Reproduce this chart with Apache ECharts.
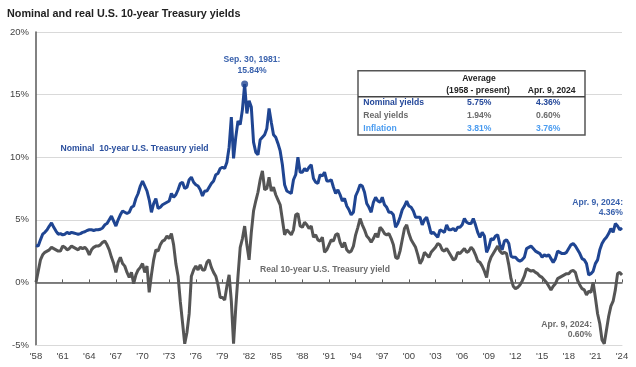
<!DOCTYPE html>
<html>
<head>
<meta charset="utf-8">
<script src="https://cdn.jsdelivr.net/npm/echarts@6/dist/echarts.min.js"></script>
<style>
html,body{margin:0;padding:0;background:#fff;}
#chart{width:636px;height:367px;}
</style>
</head>
<body>
<div id="chart"></div>
<script>
// Quarterly sample positions start at 1958 (x positions only)
const startYear = 1958;
const stepYears = 0.25;

// Nominal 10-year U.S. Treasury yield (%), 4 per year
const nominal = [
 2.95,2.9,3.4,3.85, 4.0,4.2,4.5,4.75, 4.4,4.1,3.85,3.9, 3.8,3.85,4.0,3.9,
 4.0,3.95,3.9,3.85, 3.9,4.0,4.05,4.15, 4.2,4.2,4.15,4.2, 4.2,4.25,4.35,4.6,
 4.7,5.0,5.3,4.9, 4.5,5.0,5.4,5.7, 5.6,5.5,5.6,6.0, 6.1,6.7,7.1,7.7,
 8.1,7.7,7.3,6.6, 5.6,6.3,6.7,5.9, 6.0,6.2,6.3,6.4, 6.5,7.1,6.8,7.0,
 7.4,7.9,8.0,7.5, 7.6,8.2,8.4,8.0, 7.8,7.7,7.4,6.9, 7.3,7.3,7.6,7.9,
 8.1,8.6,8.7,9.1, 9.2,9.1,9.6,10.8, 13.2,9.9,11.6,12.9, 12.6,13.8,15.84,13.5,
 14.5,14.0,11.2,10.4, 10.2,11.4,11.6,11.8, 12.3,13.9,12.8,11.8, 11.6,11.1,10.5,9.4,
 7.8,7.3,7.2,7.1, 8.2,8.6,10.0,8.8, 8.8,9.1,8.9,9.2, 9.4,8.3,8.0,7.9,
 8.6,8.5,8.8,8.1, 8.1,8.2,7.6,7.1, 7.4,7.0,6.5,6.7, 6.1,5.8,5.4,5.6,
 6.9,7.3,7.8,7.7, 7.2,6.3,6.0,5.6, 6.4,6.8,6.5,6.4, 6.8,6.2,6.0,5.6,
 5.6,5.4,4.4,4.7, 5.2,5.8,6.1,6.5, 6.1,6.0,5.7,5.2, 5.2,5.2,4.6,5.0,
 5.2,4.6,3.9,4.0, 3.8,3.6,4.2,4.1, 4.0,4.6,4.2,4.2, 4.3,4.1,4.4,4.4,
 4.6,5.1,4.8,4.7, 4.7,5.1,4.6,4.0, 3.6,4.0,3.7,2.4, 2.8,3.5,3.4,3.7,
 3.8,3.0,2.6,3.3, 3.4,3.1,2.1,2.0, 2.0,1.8,1.7,1.8, 2.0,2.7,2.8,2.9,
 2.7,2.5,2.4,2.3, 2.0,2.2,2.1,2.2, 1.9,1.6,1.9,2.5, 2.4,2.3,2.3,2.4,
 2.7,3.0,3.1,2.9, 2.6,2.3,1.9,1.8, 1.5,0.6,0.7,0.9, 1.5,1.8,2.6,3.1,
 3.4,3.6,3.9,4.3, 4.0,4.7,4.5,4.2, 4.36
];

// Real 10-year U.S. Treasury yield (%), 4 per year
const real = [
 0.0,0.9,1.8,2.2, 2.4,2.5,2.6,2.8, 2.7,2.6,2.5,2.5, 2.9,2.8,2.6,2.7,
 2.9,2.8,2.7,2.6, 2.8,2.7,2.8,2.6, 2.2,2.6,2.8,2.9, 2.9,3.0,3.2,3.3,
 3.0,2.6,2.0,1.5, 0.8,1.6,2.0,1.5, 1.3,0.8,0.4,0.8, -0.1,0.6,1.0,1.2,
 1.5,0.8,1.3,-0.8, 0.6,1.8,2.6,2.5, 3.0,3.3,3.4,3.7, 3.5,3.9,3.0,1.5,
 0.5,-1.5,-3.2,-4.9, -4.0,-2.5,0.5,1.0, 1.3,1.0,1.4,1.0, 1.0,1.6,1.8,1.2,
 0.8,0.5,-0.2,-1.2, -1.2,-1.4,-0.3,0.6, -1.5,-4.9,-2.0,0.5, 2.8,3.5,4.5,3.0,
 1.8,4.0,5.7,6.5, 7.2,8.2,8.9,7.4, 7.5,8.4,7.3,7.6, 7.0,6.6,6.2,5.0,
 3.8,4.2,4.0,3.8, 4.2,5.4,5.5,4.5, 4.4,4.8,4.6,4.3, 4.5,3.6,3.8,3.4,
 3.3,3.6,2.4,2.6, 3.0,3.4,3.3,3.8, 3.9,3.2,2.8,3.2, 2.6,2.4,2.5,2.9,
 3.8,4.4,5.1,4.6, 4.2,3.7,3.5,3.2, 3.5,3.9,3.6,4.4, 4.2,3.9,3.8,3.9,
 3.5,3.0,2.0,1.9, 2.5,3.4,4.3,4.6, 3.9,3.4,3.1,2.8, 2.2,1.5,1.8,2.4,
 2.2,2.0,2.4,2.6, 2.8,3.1,3.0,2.6, 2.5,2.7,2.4,2.1, 1.8,1.9,2.4,2.3,
 2.5,2.7,2.4,2.5, 2.8,2.6,2.2,1.7, 1.6,1.3,0.9,0.4, 1.5,2.0,2.3,2.6,
 2.9,2.5,2.3,2.4, 2.3,1.4,0.3,-0.3, -0.5,-0.4,-0.2,0.1, 0.5,1.1,1.0,0.9,
 0.95,0.8,0.7,0.5, 0.4,0.2,0.0,-0.3, -0.6,-0.3,-0.1,0.3, 0.4,0.5,0.6,0.7,
 0.7,0.9,0.95,0.8, 0.15,-0.2,-0.5,-0.6, -1.0,-0.7,-0.8,0.0, -1.2,-2.5,-3.3,-4.6,
 -4.9,-3.8,-2.7,-1.9, -1.5,-0.6,0.7,0.8, 0.6
];

// Peak annotation point
const peakDate = [1981.5];
const peakValue = [15.84];

// Axis ticks
const yTicks = [-5, 0, 5, 10, 15, 20];
const xLabelYears = [1958,1961,1964,1967,1970,1973,1976,1979,1982,1985,1988,1991,1994,1997,2000,2003,2006,2009,2012,2015,2018,2021,2024];

// Table content
const tableRows = ['Nominal yields', 'Real yields', 'Inflation'];
const tableAvg = ['5.75%', '1.94%', '3.81%'];
const tableNow = ['4.36%', '0.60%', '3.76%'];

const dates = nominal.map((_, i) => startYear + i * stepYears);
const nominalData = dates.map((d, i) => [d, nominal[i]]);
const realData = dates.map((d, i) => [d, real[i]]);

const FF = '"Liberation Sans", Arial, sans-serif';
const BLUE_LINE = '#1f4592';
const BLUE_TXT = '#3a62ad';
const GRAY_LINE = '#555555';
const rowColors = ['#24489a', '#6b6b6b', '#4b9cf0'];

const chart = echarts.init(document.getElementById('chart'), null, {renderer: 'canvas'});

const graphics = [
  {type:'text', style:{text:'Nominal and real U.S. 10-year Treasury yields', x:7, y:14, font:'bold 10.8px ' + FF, fill:'#222', verticalAlign:'middle'}},
  {type:'text', style:{text:'Sep. 30, 1981:\n15.84%', x:252, y:54.5, font:'bold 8.6px ' + FF, lineHeight:11, fill:BLUE_TXT, align:'center', verticalAlign:'top'}},
  {type:'text', style:{text:'Nominal  10-year U.S. Treasury yield', x:60.5, y:148.3, font:'bold 8.6px ' + FF, fill:'#2a4f9e', verticalAlign:'middle'}},
  {type:'text', style:{text:'Real 10-year U.S. Treasury yield', x:260, y:269.3, font:'bold 8.6px ' + FF, fill:'#6b6b6b', verticalAlign:'middle'}},
  {type:'text', style:{text:'Apr. 9, 2024:\n4.36%', x:623, y:197, font:'bold 8.6px ' + FF, lineHeight:10.5, fill:BLUE_TXT, align:'right', verticalAlign:'top'}},
  {type:'text', style:{text:'Apr. 9, 2024:\n0.60%', x:592, y:319, font:'bold 8.6px ' + FF, lineHeight:10.5, fill:'#6b6b6b', align:'right', verticalAlign:'top'}},
  // table
  {type:'rect', shape:{x:358, y:70.7, width:227, height:64.3}, style:{fill:'#fff', stroke:'#555', lineWidth:1.5}, z:100},
  {type:'line', shape:{x1:358, y1:96.7, x2:585, y2:96.7}, style:{stroke:'#444', lineWidth:1.5}, z:101},
  {type:'text', style:{text:'Average', x:479, y:78.3, font:'bold 8.6px ' + FF, fill:'#222', align:'center', verticalAlign:'middle'}, z:102},
  {type:'text', style:{text:'(1958 - present)', x:478, y:90.7, font:'bold 8.6px ' + FF, fill:'#222', align:'center', verticalAlign:'middle'}, z:102},
  {type:'text', style:{text:'Apr. 9, 2024', x:551.7, y:90.7, font:'bold 8.6px ' + FF, fill:'#222', align:'center', verticalAlign:'middle'}, z:102}
];
const rowY = [102.7, 115.7, 128.3];
tableRows.forEach((r, i) => {
  graphics.push({type:'text', style:{text:r, x:363.3, y:rowY[i], font:'bold 8.6px ' + FF, fill:rowColors[i], verticalAlign:'middle'}, z:102});
  graphics.push({type:'text', style:{text:tableAvg[i], x:479.3, y:rowY[i], font:'bold 8.6px ' + FF, fill:rowColors[i], align:'center', verticalAlign:'middle'}, z:102});
  graphics.push({type:'text', style:{text:tableNow[i], x:548.3, y:rowY[i], font:'bold 8.6px ' + FF, fill:rowColors[i], align:'center', verticalAlign:'middle'}, z:102});
});

const option = {
  animation: false,
  backgroundColor: '#fff',
  grid: {left: 36, right: 14, top: 32, bottom: 22, containLabel: false},
  xAxis: [
    {
      type: 'value', min: xLabelYears[0], max: xLabelYears[xLabelYears.length - 1], interval: 3,
      position: 'bottom',
      axisLine: {show: true, onZero: false, lineStyle: {color: '#d9d9d9', width: 1}},
      axisTick: {show: false},
      splitLine: {show: false},
      axisLabel: {
        color: '#444', fontSize: 9.5, fontFamily: FF, margin: 6,
        formatter: v => xLabelYears.indexOf(v) >= 0 ? "'" + String(v % 100).padStart(2, '0') : ''
      }
    },
    {
      type: 'value', min: xLabelYears[0], max: xLabelYears[xLabelYears.length - 1], interval: 3,
      position: 'bottom',
      axisLine: {show: true, onZero: true, lineStyle: {color: '#595959', width: 1.5}},
      axisTick: {show: true, inside: true, length: 3, lineStyle: {color: '#595959'}},
      splitLine: {show: false},
      axisLabel: {show: false}
    }
  ],
  yAxis: {
    type: 'value', min: yTicks[0], max: yTicks[yTicks.length - 1], interval: 5,
    axisLine: {show: true, lineStyle: {color: '#595959', width: 1.5}},
    axisTick: {show: false},
    splitLine: {show: true, lineStyle: {color: '#d9d9d9', width: 1}},
    axisLabel: {color: '#444', fontSize: 9.5, fontFamily: FF, margin: 7, formatter: '{value}%'}
  },
  series: [
    {
      type: 'line', name: 'Nominal', data: nominalData, showSymbol: false, symbol: 'none',
      lineStyle: {color: BLUE_LINE, width: 3}, z: 3, clip: true
    },
    {
      type: 'line', name: 'Real', data: realData, showSymbol: false, symbol: 'none',
      lineStyle: {color: GRAY_LINE, width: 3}, z: 4, clip: true
    },
    {
      type: 'scatter', name: 'Peak', data: peakDate.map((d, i) => [d, peakValue[i]]),
      symbolSize: 7, itemStyle: {color: BLUE_LINE}, z: 5
    }
  ],
  graphic: graphics
};
chart.setOption(option);
</script>
</body>
</html>
